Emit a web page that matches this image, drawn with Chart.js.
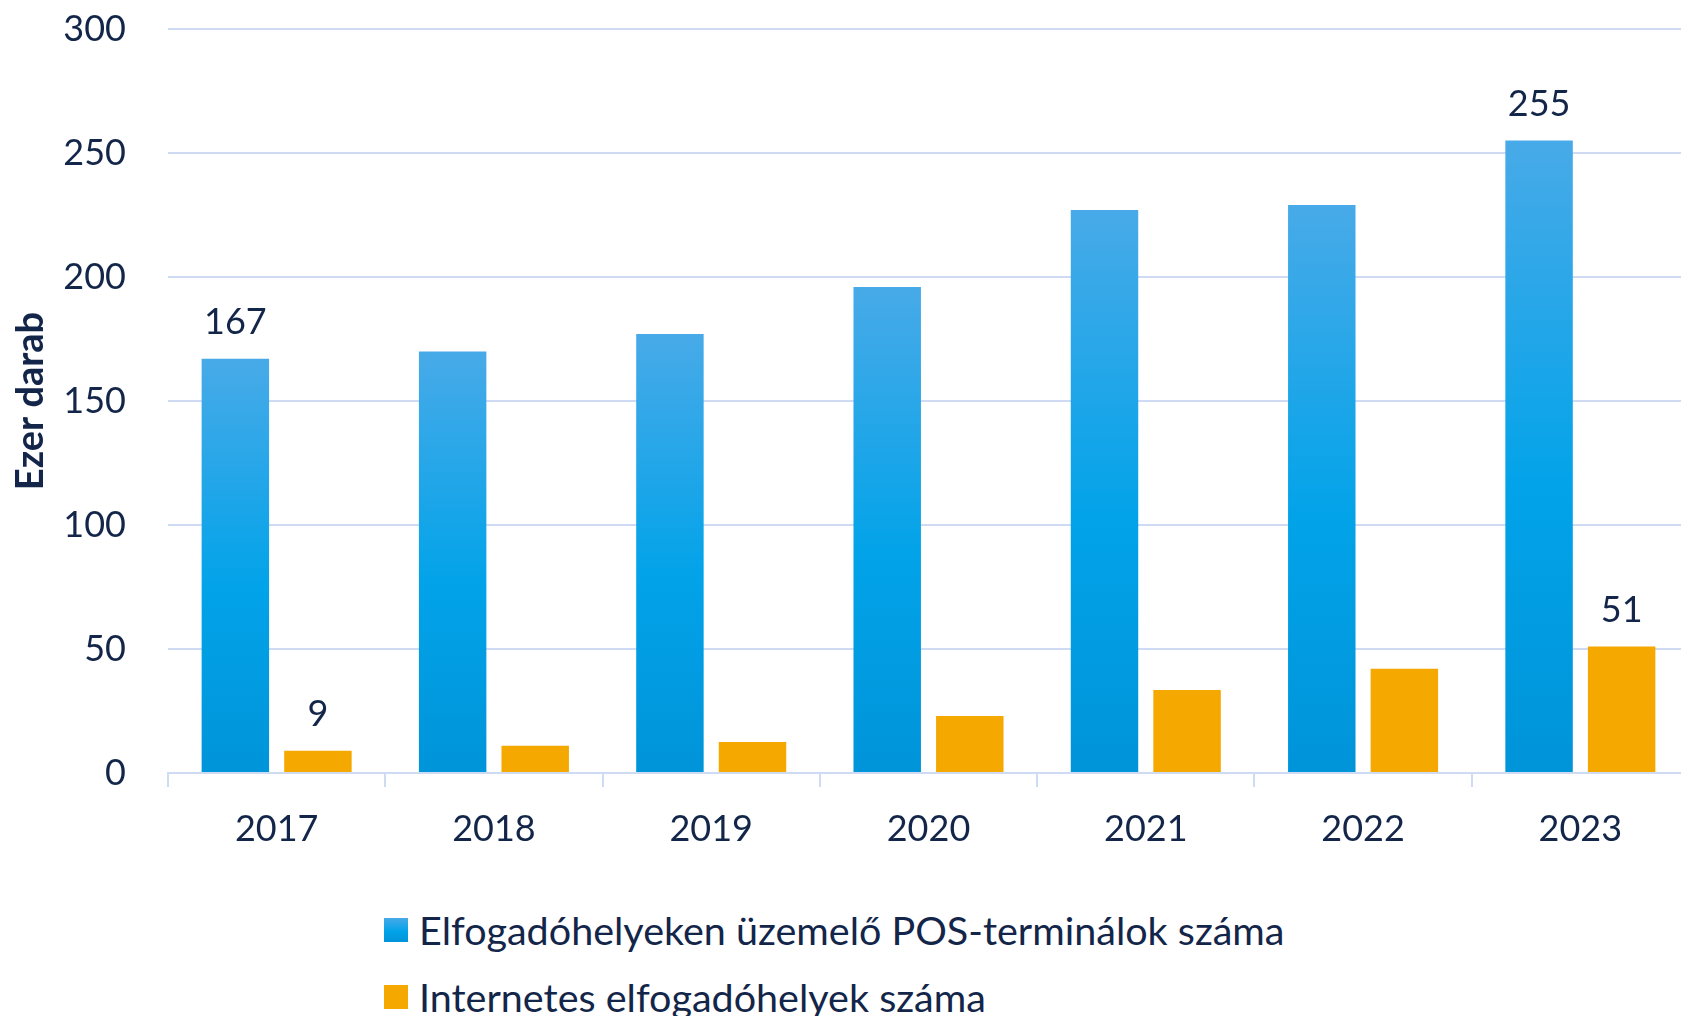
<!DOCTYPE html>
<html>
<head>
<meta charset="utf-8">
<script src="https://cdn.jsdelivr.net/npm/chart.js@4.4.1/dist/chart.umd.min.js"></script>
<style>
  html, body { margin: 0; padding: 0; background: #fff; overflow: hidden; width: 1681px; height: 1016px; }
  #wrap { position: absolute; left: 0; top: 0; width: 1689px; height: 880px; }
  #legend { position: absolute; left: 384px; top: 896px; font-family: Lato, sans-serif; font-size: 39.5px; color: #13264a; }
  .item { display: flex; align-items: center; height: 67px; white-space: nowrap; }
  .box { width: 24px; height: 24px; margin-right: 11px; }
</style>
</head>
<body>
<div id="wrap"><canvas id="myChart" width="1689" height="880"></canvas></div>
<div id="legend"></div>
<script>
// Data (ezer darab)
const years = ['2017', '2018', '2019', '2020', '2021', '2022', '2023'];
const posTerminals = [167, 170, 177, 196, 227, 229, 255];
const webShops = [9, 11, 12.5, 23, 33.5, 42, 51];
const seriesNames = ['Elfogadóhelyeken üzemelő POS-terminálok száma', 'Internetes elfogadóhelyek száma'];
const yTicks = [0, 50, 100, 150, 200, 250, 300];
const labeledYears = ['2017', '2023'];
const axisTitle = 'Ezer darab';

const navy = '#13264a';
const gridColor = '#cfdaf4';
const orange = '#f5a800';

// each blue bar gets its own top-to-bottom gradient
function blueFill(context) {
    const chart = context.chart;
    if (!chart.chartArea || context.type !== 'data') return '#00a3e9';
    const y = chart.scales.y;
    const top = y.getPixelForValue(context.raw);
    const base = y.getPixelForValue(0);
    const g = chart.ctx.createLinearGradient(0, top, 0, base);
    g.addColorStop(0, '#48aae8');
    g.addColorStop(0.55, '#02a3e9');
    g.addColorStop(1, '#0094d9');
    return g;
}

// value labels above first and last year only
const valueLabels = {
    id: 'valueLabels',
    afterDatasetsDraw(chart) {
        const ctx = chart.ctx;
        ctx.save();
        ctx.font = '36px Lato';
        ctx.fillStyle = navy;
        ctx.textAlign = 'center';
        ctx.textBaseline = 'alphabetic';
        chart.data.datasets.forEach((ds, i) => {
            chart.getDatasetMeta(i).data.forEach((bar, j) => {
                if (!labeledYears.includes(years[j])) return;
                ctx.fillText(Math.round(ds.data[j]), bar.x, bar.y - 25);
            });
        });
        ctx.restore();
    }
};

const ctx = document.getElementById('myChart').getContext('2d');
const chart = new Chart(ctx, {
    type: 'bar',
    data: {
        labels: years,
        datasets: [
            { label: seriesNames[0], data: posTerminals, backgroundColor: blueFill },
            { label: seriesNames[1], data: webShops, backgroundColor: orange }
        ]
    },
    options: {
        responsive: false,
        animation: false,
        categoryPercentage: 0.76,
        barPercentage: 0.817,
        layout: { padding: { top: 29, left: 0, right: 0, bottom: 0 } },
        plugins: {
            legend: { display: false },
            tooltip: { enabled: false }
        },
        scales: {
            x: {
                grid: { offset: true, drawOnChartArea: false, tickLength: 14, color: gridColor, lineWidth: 2 },
                border: { color: gridColor, width: 2 },
                ticks: { font: { family: 'Lato', size: 36 }, color: navy, padding: 21 },
                afterFit(scale) { scale.height = 107; }
            },
            y: {
                min: 0,
                max: 300,
                afterBuildTicks(scale) { scale.ticks = yTicks.map(v => ({ value: v })); },
                // invisible tick marks make the gap between labels and plot
                grid: { drawTicks: true, tickLength: 42, tickColor: 'rgba(0,0,0,0)', color: gridColor, lineWidth: 2 },
                border: { display: false },
                ticks: { font: { family: 'Lato', size: 36 }, color: navy, padding: 0 },
                title: {
                    display: true,
                    text: axisTitle,
                    font: { family: 'Lato', size: 38, weight: 'bold' },
                    color: navy,
                    padding: { top: 8, bottom: 0 }
                },
                afterFit(scale) { scale.width = 168; }
            }
        }
    },
    plugins: [valueLabels]
});

// legend stacked in two rows, as in the original
const legend = document.getElementById('legend');
chart.data.datasets.forEach((ds, i) => {
    const item = document.createElement('div');
    item.className = 'item';
    const box = document.createElement('span');
    box.className = 'box';
    box.style.background = i === 0 ? 'linear-gradient(#48aae8, #02a3e9 55%, #0094d9)' : orange;
    const text = document.createElement('span');
    text.textContent = ds.label;
    item.appendChild(box);
    item.appendChild(text);
    legend.appendChild(item);
});
</script>
</body>
</html>
